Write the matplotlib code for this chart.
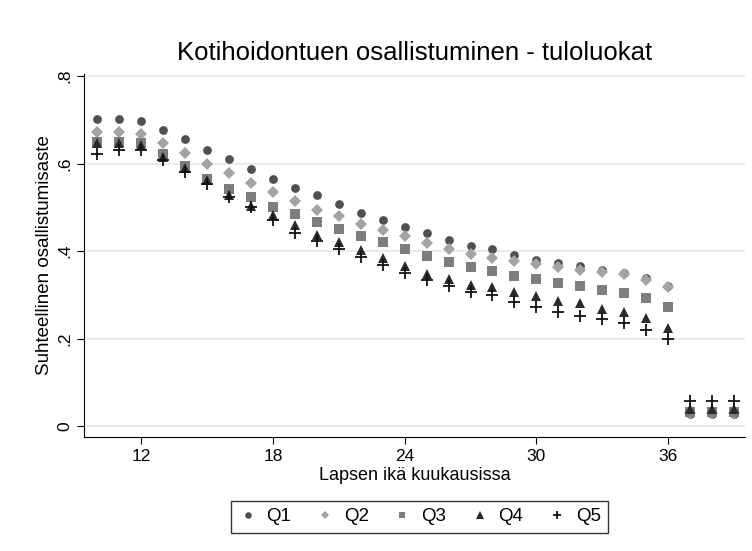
import matplotlib
matplotlib.use("Agg")
from matplotlib import pyplot as plt
import numpy as np

plt.rcParams['font.family'] = ['Liberation Sans', 'DejaVu Sans']

# months 10..36 and the group after 36
months = list(range(10, 37)) + [37, 38, 39]

q1 = [0.703, 0.703, 0.697, 0.677, 0.657, 0.632, 0.611, 0.587, 0.566, 0.545,
      0.528, 0.507, 0.487, 0.471, 0.456, 0.441, 0.425, 0.413, 0.405, 0.392,
      0.381, 0.372, 0.366, 0.358, 0.350, 0.338, 0.320,
      0.028, 0.028, 0.028]
q2 = [0.672, 0.672, 0.667, 0.646, 0.624, 0.600, 0.579, 0.556, 0.535, 0.514,
      0.495, 0.481, 0.463, 0.448, 0.434, 0.418, 0.405, 0.393, 0.385, 0.378,
      0.370, 0.364, 0.357, 0.352, 0.347, 0.335, 0.318,
      0.031, 0.031, 0.031]
q3 = [0.649, 0.649, 0.646, 0.623, 0.594, 0.566, 0.543, 0.523, 0.501, 0.485,
      0.467, 0.450, 0.434, 0.421, 0.405, 0.389, 0.376, 0.364, 0.354, 0.343,
      0.336, 0.328, 0.320, 0.311, 0.304, 0.293, 0.272,
      0.034, 0.034, 0.034]
q4 = [0.646, 0.647, 0.643, 0.615, 0.589, 0.562, 0.529, 0.503, 0.482, 0.459,
      0.438, 0.421, 0.402, 0.384, 0.366, 0.349, 0.336, 0.323, 0.318, 0.308,
      0.298, 0.287, 0.281, 0.268, 0.261, 0.248, 0.225,
      0.040, 0.040, 0.040]
q5 = [0.623, 0.632, 0.632, 0.609, 0.581, 0.554, 0.524, 0.501, 0.472, 0.442,
      0.423, 0.404, 0.386, 0.368, 0.351, 0.334, 0.320, 0.308, 0.299, 0.285,
      0.273, 0.262, 0.253, 0.245, 0.237, 0.220, 0.199,
      0.057, 0.057, 0.057]

labels = ["Q1", "Q2", "Q3", "Q4", "Q5"]
xticks = [12, 18, 24, 30, 36]
yticks = [0, 0.2, 0.4, 0.6, 0.8]
ytick_labels = ["0", ".2", ".4", ".6", ".8"]

fig = plt.figure(figsize=(7.52, 5.51), dpi=100)
ax = fig.add_axes([0.1117, 0.207, 0.879, 0.659])

styles = [
    dict(marker="o", color="#505050", ms=6.3),
    dict(marker="D", color="#a3a3a3", ms=5.8),
    dict(marker="s", color="#7d7d7d", ms=6.5),
    dict(marker="^", color="#2a2a2a", ms=7.0),
    dict(marker="+", color="#111111", ms=8.5, mew=1.3),
]
for series, lab, st in zip([q1, q2, q3, q4, q5], labels, styles):
    ms = st.get("ms")
    mew = st.get("mew", 0)
    ax.plot(months, series, linestyle="none", marker=st["marker"],
            color=st["color"], markersize=ms, markeredgewidth=mew, label=lab)

ax.set_xlim(9.4, 39.5)
ax.set_ylim(-0.024, 0.805)
ax.set_xticks(xticks)
ax.set_yticks(yticks)
ax.set_yticklabels(ytick_labels, rotation=90, va="center")
ax.tick_params(labelsize=12.5, length=5, color="black")
ax.grid(axis="y", color="#e6e6e6", linewidth=1.2)
ax.set_axisbelow(True)
for side in ["top", "right"]:
    ax.spines[side].set_visible(False)

ax.set_xlabel("Lapsen ikä kuukausissa", fontsize=13, labelpad=2)
ax.set_ylabel("Suhteellinen osallistumisaste", fontsize=13.5, labelpad=3)
ax.set_title("Kotihoidontuen osallistuminen - tuloluokat", fontsize=18.5, pad=10)

leg = fig.legend(loc="center", bbox_to_anchor=(0.558, 0.062), ncol=5,
                 fontsize=13.5, frameon=True, fancybox=False, edgecolor="black",
                 markerscale=0.75, handlelength=1.0, handletextpad=0.5,
                 columnspacing=1.3, borderpad=0.4)
leg.get_frame().set_linewidth(1.0)

fig.savefig("out.png", dpi=100)
